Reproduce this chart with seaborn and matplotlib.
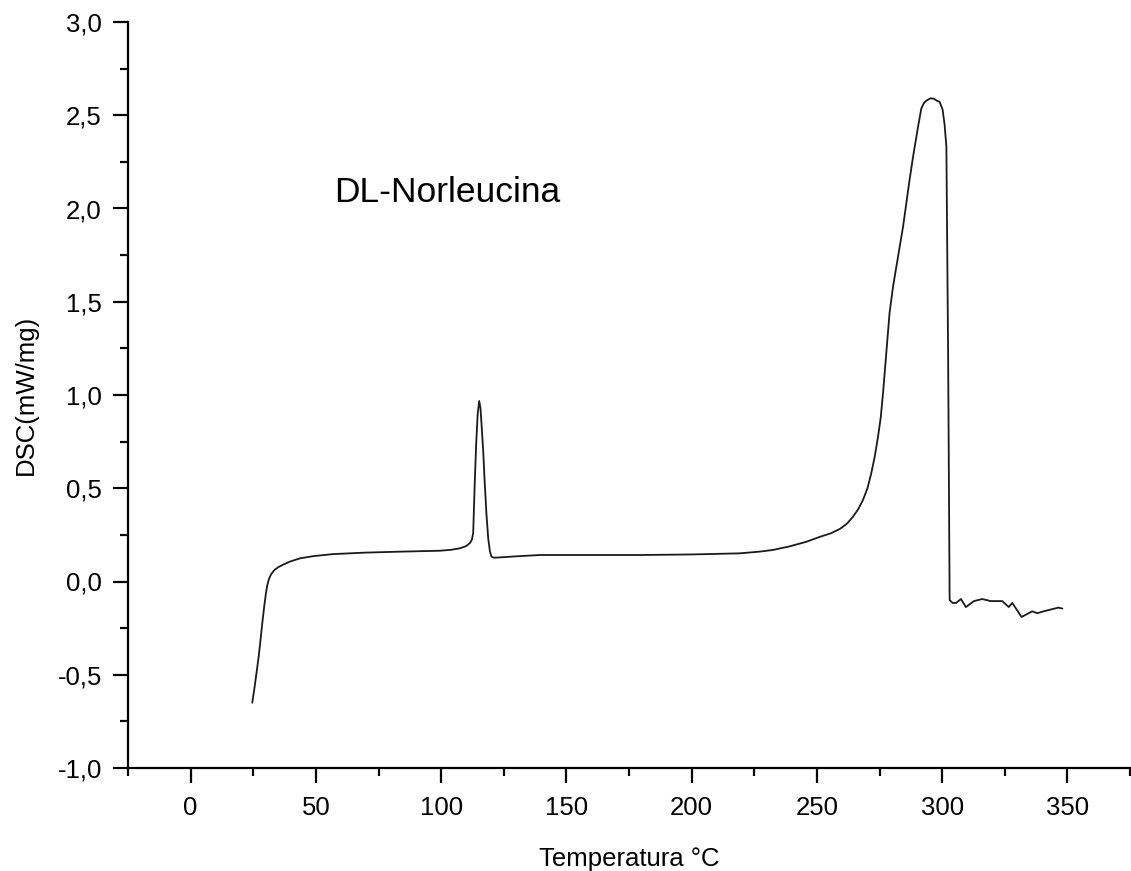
import matplotlib
matplotlib.use("Agg")
import matplotlib.pyplot as plt
from matplotlib.ticker import MultipleLocator, FuncFormatter
import seaborn as sns
import pandas as pd

temperature = [24.6, 25.5, 26.3, 27.2, 28.0, 28.8, 29.5, 30.1, 30.6, 31.2, 31.8, 32.6, 33.5,
               35.0, 36.9, 39.5, 43.6, 49.0, 56.9, 70.0, 83.5,
               99.5, 104.0, 107.5, 110.0, 111.5, 112.3, 112.8, 113.4, 114.0, 114.6, 115.2,
               115.7, 116.1, 116.8, 117.4, 118.1, 118.8, 119.5, 120.1, 121.0,
               122.0, 130.0, 139.4, 160.0, 179.3, 200.0, 219.2, 227.0, 232.4, 239.0, 245.8,
               251.3, 255.5, 259.2, 262.0, 264.4, 266.5, 268.4, 270.2, 271.7, 273.1, 274.4,
               275.5, 276.4, 277.7, 279.0, 280.4, 282.4, 284.4, 287.0,
               288.4, 290.4, 291.7, 292.7, 293.7, 295.3, 296.8, 297.9, 299.0, 300.2, 301.0,
               301.7, 302.4, 303.0,
               304.2, 305.6, 307.5, 309.5, 312.7, 316.0, 319.4, 324.0, 326.6, 328.0, 331.7,
               336.0, 338.0, 340.5, 346.4, 348.0]
dsc = [-0.65, -0.57, -0.49, -0.40, -0.30, -0.20, -0.12, -0.06, -0.02, 0.01, 0.03, 0.048, 0.062,
       0.077, 0.090, 0.106, 0.124, 0.136, 0.147, 0.155, 0.16,
       0.165, 0.170, 0.178, 0.190, 0.206, 0.225, 0.26, 0.52, 0.74, 0.90, 0.968,
       0.93, 0.85, 0.70, 0.53, 0.36, 0.23, 0.16, 0.133, 0.128,
       0.128, 0.135, 0.142, 0.142, 0.142, 0.145, 0.151, 0.160, 0.169, 0.188, 0.213,
       0.240, 0.258, 0.282, 0.310, 0.347, 0.388, 0.437, 0.500, 0.580, 0.670, 0.776,
       0.880, 1.009, 1.223, 1.438, 1.581, 1.742, 1.902, 2.153,
       2.278, 2.439, 2.537, 2.565, 2.578, 2.591, 2.588, 2.578, 2.572, 2.53, 2.448,
       2.331, 1.2, -0.10,
       -0.115, -0.115, -0.094, -0.137, -0.105, -0.094, -0.105, -0.105, -0.137, -0.115, -0.19,
       -0.16, -0.17, -0.16, -0.14, -0.145]

x_label = "Temperatura °C"
y_label = "DSC(mW/mg)"
annotation = "DL-Norleucina"

df = pd.DataFrame({"T": temperature, "DSC": dsc})

sns.set_style("ticks")
plt.rcParams['font.family'] = ['Liberation Sans', 'DejaVu Sans']
plt.rcParams['text.color'] = 'black'
plt.rcParams['axes.labelcolor'] = 'black'

fig = plt.figure(figsize=(11.31, 8.71), dpi=100)
ax = fig.add_axes([128/1131, 1 - 768/871, (1130 - 128)/1131, (768 - 22)/871])

sns.lineplot(data=df, x="T", y="DSC", ax=ax, sort=False, estimator=None,
             color="#1a1a1a", linewidth=1.3)

ax.set_xlim(-25, 375)
ax.set_ylim(-1.0, 3.0)
ax.xaxis.set_major_locator(MultipleLocator(50))
ax.xaxis.set_minor_locator(MultipleLocator(25))
ax.yaxis.set_major_locator(MultipleLocator(0.5))
ax.yaxis.set_minor_locator(MultipleLocator(0.25))
ax.yaxis.set_major_formatter(FuncFormatter(lambda v, p: f"{v:.1f}".replace('.', ',')))
ax.xaxis.set_major_formatter(FuncFormatter(lambda v, p: f"{v:.0f}"))

for s in ["top", "right"]:
    ax.spines[s].set_visible(False)
for s in ["left", "bottom"]:
    ax.spines[s].set_linewidth(1.6)
    ax.spines[s].set_color("black")

ax.tick_params(which="major", direction="out", length=10.8, width=1.6, colors="black",
               labelsize=18.5, labelcolor="black")
ax.tick_params(which="minor", direction="out", length=5.8, width=1.6, colors="black")
ax.tick_params(axis="x", which="major", pad=9)
ax.tick_params(axis="y", which="major", pad=8)

ax.set_xlabel(x_label, fontsize=18.5, labelpad=20, color="black")
ax.set_ylabel(y_label, fontsize=18.5, labelpad=14, color="black")

ax.text(0.319, 0.771, annotation, transform=ax.transAxes, fontsize=25.5,
        ha="center", va="center", color="black")

fig.savefig("out.png", dpi=100)
